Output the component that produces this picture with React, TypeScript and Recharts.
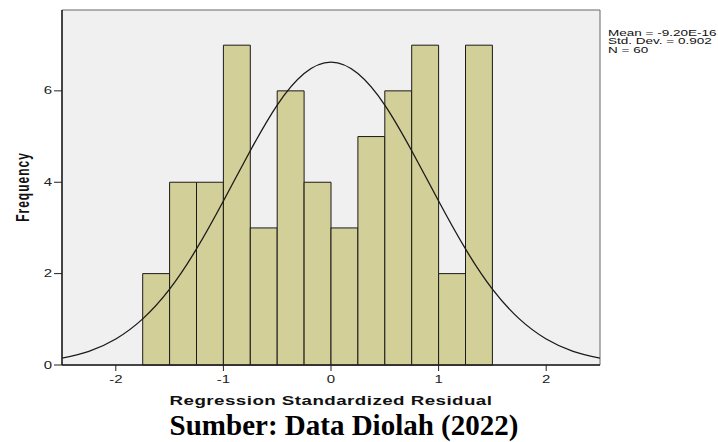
import React from "react";
import { ComposedChart, Line, XAxis, YAxis, ReferenceArea } from "recharts";

const binStarts = [-1.75, -1.5, -1.25, -1.0, -0.75, -0.5, -0.25, 0, 0.25, 0.5, 0.75, 1.0, 1.25];
const binWidth = 0.25;
const frequencies = [2, 4, 4, 7, 3, 6, 4, 3, 5, 6, 7, 2, 7];

const curveX = [-2.5, -2.25, -2, -1.75, -1.5, -1.25, -1, -0.75, -0.5, -0.25, 0, 0.25, 0.5, 0.75, 1, 1.25, 1.5, 1.75, 2, 2.25, 2.5];
const curveY = [0.15, 0.3, 0.57, 1.01, 1.66, 2.54, 3.59, 4.69, 5.69, 6.38, 6.63, 6.38, 5.69, 4.69, 3.59, 2.54, 1.66, 1.01, 0.57, 0.3, 0.15];

const xTicks = [-2, -1, 0, 1, 2];
const yTicks = [0, 2, 4, 6];
const statsLines = ["Mean = -9.20E-16", "Std. Dev. = 0.902", "N = 60"];

const curveData = curveX.map((x, i) => ({ x, y: curveY[i] }));

const FONT = "Arial, 'Liberation Sans', sans-serif";

const XTick = (props: any) => {
  const { x, y, payload } = props;
  return (
    <g transform={`translate(${x},${y})`}>
      <text
        transform="scale(1.5,1)"
        textAnchor="middle"
        y={0}
        dy={10}
        fontFamily={FONT}
        fontSize={10}
        fill="#222"
      >
        {payload.value}
      </text>
    </g>
  );
};

const YTick = (props: any) => {
  const { x, y, payload } = props;
  return (
    <g transform={`translate(${x},${y})`}>
      <text
        transform="scale(1.5,1)"
        textAnchor="end"
        x={0}
        dy={3.5}
        fontFamily={FONT}
        fontSize={10}
        fill="#222"
      >
        {payload.value}
      </text>
    </g>
  );
};

export default function App() {
  return (
    <div style={{ position: "absolute", left: 0, top: 0, width: 718, height: 442, background: "#fff" }}>
      <ComposedChart
        width={718}
        height={442}
        data={curveData}
        margin={{ top: 10, right: 118, bottom: 47, left: 32 }}
      >
        <XAxis
          dataKey="x"
          type="number"
          domain={[-2.5, 2.5]}
          ticks={xTicks}
          allowDataOverflow
          tick={<XTick />}
          tickSize={6}
          height={30}
          stroke="#222"
          axisLine={{ stroke: "#222", strokeWidth: 1.5 }}
          tickLine={{ stroke: "#222" }}
        />
        <YAxis
          type="number"
          domain={[0, 7.77]}
          ticks={yTicks}
          allowDataOverflow
          width={30}
          tick={<YTick />}
          tickSize={8}
          stroke="#222"
          axisLine={{ stroke: "#222", strokeWidth: 1.5 }}
          tickLine={{ stroke: "#222" }}
        />
        <ReferenceArea
          x1={-2.5}
          x2={2.5}
          y1={0}
          y2={7.77}
          fill="#f0f0f0"
          fillOpacity={1}
          stroke="#666"
          strokeWidth={1}
          ifOverflow="visible"
        />
        {binStarts.map((s, i) => (
          <ReferenceArea
            key={i}
            x1={s}
            x2={s + binWidth}
            y1={0}
            y2={frequencies[i]}
            fill="#d3cf98"
            fillOpacity={1}
            stroke="#1a1a1a"
            strokeWidth={1}
            ifOverflow="visible"
          />
        ))}
        <Line
          dataKey="y"
          type="natural"
          stroke="#1a1a1a"
          strokeWidth={1.3}
          dot={false}
          isAnimationActive={false}
        />
      </ComposedChart>
      <div
        style={{
          position: "absolute",
          left: 608,
          top: 28.5,
          fontFamily: FONT,
          fontSize: 9,
          lineHeight: "8.5px",
          color: "#111",
          whiteSpace: "nowrap",
          transform: "scaleX(1.5)",
          transformOrigin: "0 0",
        }}
      >
        {statsLines.map((t, i) => (
          <div key={i}>{t}</div>
        ))}
      </div>
      <div
        style={{
          position: "absolute",
          left: 23 - 60,
          top: 187 - 8,
          width: 120,
          height: 16,
          transform: "rotate(-90deg) scaleY(1.5)",
          textAlign: "center",
          fontFamily: FONT,
          fontWeight: "bold",
          fontSize: 12,
          letterSpacing: 1,
          lineHeight: "16px",
          color: "#111",
        }}
      >
        Frequency
      </div>
      <div
        style={{
          position: "absolute",
          left: 131,
          top: 393,
          width: 400,
          textAlign: "center",
          fontFamily: FONT,
          fontWeight: "bold",
          fontSize: 12.5,
          letterSpacing: 0.3,
          lineHeight: "16px",
          color: "#111",
          transform: "scaleX(1.5)",
          transformOrigin: "50% 50%",
        }}
      >
        Regression Standardized Residual
      </div>
      <div
        style={{
          position: "absolute",
          left: 94,
          top: 411,
          width: 500,
          textAlign: "center",
          fontFamily: "'Liberation Serif', 'Times New Roman', serif",
          fontWeight: "bold",
          fontSize: 29,
          lineHeight: "29px",
          color: "#000",
        }}
      >
        Sumber: Data Diolah (2022)
      </div>
    </div>
  );
}
